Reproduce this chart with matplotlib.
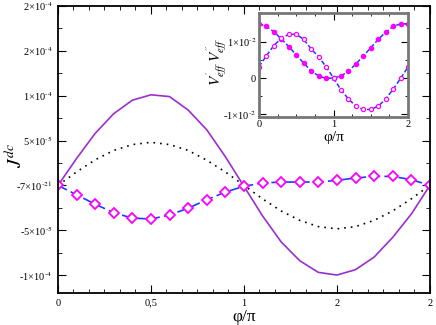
import matplotlib
matplotlib.use("Agg")
import matplotlib.pyplot as plt
from matplotlib.ticker import MultipleLocator

plt.rcParams['font.family'] = ['Liberation Serif', 'DejaVu Serif']
plt.rcParams['mathtext.fontset'] = 'stix'

# main panel data
phi = [0.0, 0.1, 0.2, 0.3, 0.4, 0.5, 0.6, 0.7, 0.8, 0.9, 1.0,
       1.1, 1.2, 1.3, 1.4, 1.5, 1.6, 1.7, 1.8, 1.9, 2.0]
j_solid = [0.0, 3.0e-5, 5.8e-5, 8.0e-5, 9.5e-5, 1.01e-4, 9.9e-5, 8.4e-5, 6.2e-5, 3.2e-5, -1e-6,
           -3.4e-5, -6.3e-5, -8.4e-5, -9.7e-5, -1.0e-4, -9.4e-5, -8.0e-5, -5.8e-5, -3.2e-5, 0.0]
j_dot = [0.0, 1.5e-5, 2.85e-5, 3.9e-5, 4.55e-5, 4.8e-5, 4.55e-5, 3.9e-5, 2.8e-5, 1.5e-5, 0.0,
         -1.5e-5, -2.85e-5, -3.9e-5, -4.6e-5, -4.85e-5, -4.6e-5, -3.9e-5, -2.85e-5, -1.5e-5, 0.0]
j_dash = [0.0, -1.05e-5, -2.1e-5, -3.05e-5, -3.65e-5, -3.75e-5, -3.3e-5, -2.55e-5, -1.6e-5, -7.5e-6, -1e-6,
          2.6e-6, 3.7e-6, 3.7e-6, 3.7e-6, 5.6e-6, 8.2e-6, 1.0e-5, 1.0e-5, 6.4e-6, 0.0]

yticks = [-1e-4, -5e-5, 0, 5e-5, 1e-4, 1.5e-4, 2e-4]
ylabels = ["-1\u00d710$^{\\text{-}4}$", "-5\u00d710$^{\\text{-}5}$", "-7\u00d710$^{\\text{-}21}$",
           "5\u00d710$^{\\text{-}5}$", "1\u00d710$^{\\text{-}4}$", "2\u00d710$^{\\text{-}4}$",
           "2\u00d710$^{\\text{-}4}$"]
xticks = [0, 0.5, 1, 1.5, 2]
xlabels = ["0", "0,5", "1", "2", "2"]

# inset data
v1 = [0.015, 0.0143, 0.0128, 0.0108, 0.0087, 0.0064, 0.0041, 0.002, 0.00056, -0.0001, 0.0,
      0.00056, 0.0019, 0.0039, 0.0061, 0.0084, 0.0107, 0.0127, 0.0143, 0.015, 0.015]
v2 = [0.0031, 0.0062, 0.009, 0.011, 0.0121, 0.0121, 0.0107, 0.008, 0.0059, 0.0031, 0.0,
      -0.0033, -0.0058, -0.0078, -0.0087, -0.0087, -0.0078, -0.0058, -0.0031, -0.0001, 0.0031]
inset_yticks = [-0.01, 0, 0.01]
inset_ylabels = ["-1\u00d710$^{\\text{-}2}$", "0", "1\u00d710$^{\\text{-}2}$"]

fig = plt.figure(figsize=(4.36, 3.25), dpi=100)
ax = fig.add_axes([0.133, 0.0985, 0.853, 0.883])

ax.plot(phi, j_solid, color='#9a2fd0', lw=1.2)
ax.plot(phi, j_dot, color='black', ls=(0, (1, 3)), lw=1.2)
ax.plot(phi, j_dash, color='#1a3cff', ls=(0, (6, 2.5)), lw=1.2,
        marker='D', ms=5, mfc='white', mec='#ff00ff', mew=1.3)

ax.set_xlim(0, 2)
ax.set_ylim(-1.2e-4, 2e-4)
ax.set_xticks(xticks)
ax.set_xticklabels(xlabels, fontsize=7.5)
ax.set_yticks(yticks)
ax.set_yticklabels(ylabels, fontsize=7.5)
ax.xaxis.set_minor_locator(MultipleLocator(1 / 12))
ax.yaxis.set_minor_locator(MultipleLocator(2.5e-5))
ax.tick_params(which='both', direction='in', top=True, right=True)
ax.tick_params(which='major', length=6, pad=4)
ax.tick_params(which='minor', length=3)
for s in ax.spines.values():
    s.set_linewidth(1.3)
ax.set_xlabel("\u03c6/\u03c0", fontsize=12.5)
ax.xaxis.set_label_coords(0.5, -0.055)
ax.set_ylabel("$J^{dc}$", fontsize=14)
ax.yaxis.set_label_coords(-0.085, 0.48)

# inset
ins = fig.add_axes([0.594, 0.64, 0.342, 0.32])
ins.plot(phi, v1, color='#1a3cff', ls=(0, (3, 1.5)), lw=1.1,
         marker='o', ms=3, mfc='#ff00ff', mec='#ff00ff')
ins.plot(phi, v2, color='#1a3cff', ls=(0, (3, 1.5)), lw=1.1,
         marker='o', ms=3, mfc='white', mec='#ff00ff', mew=0.9)
ins.set_xlim(0, 2)
ins.set_ylim(-0.0108, 0.018)
ins.set_xticks([0, 1, 2])
ins.set_xticklabels(["0", "1", "2"], fontsize=7.5)
ins.set_yticks(inset_yticks)
ins.set_yticklabels(inset_ylabels, fontsize=7.5)
ins.xaxis.set_minor_locator(MultipleLocator(0.25))
ins.yaxis.set_minor_locator(MultipleLocator(0.005))
ins.tick_params(which='both', direction='in', top=True, right=True, pad=2)
ins.tick_params(which='major', length=5)
ins.tick_params(which='minor', length=2.5)
for s in ins.spines.values():
    s.set_linewidth(2)
    s.set_color('#777777')
ins.set_xlabel("\u03c6/\u03c0", fontsize=11)
ins.xaxis.set_label_coords(0.5, -0.135)
ins.set_ylabel("$V^{'}_{eff}\\ V^{''}_{eff}$", fontsize=11)
ins.yaxis.set_label_coords(-0.2, 0.53)

fig.savefig("out.png", dpi=100)
